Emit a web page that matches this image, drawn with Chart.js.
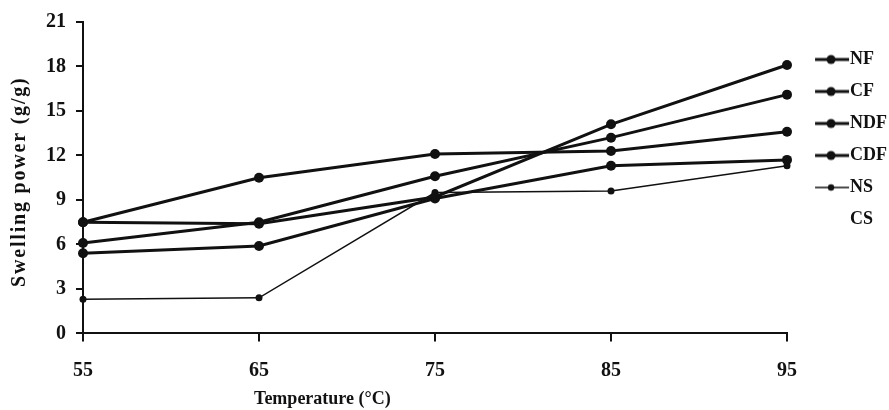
<!DOCTYPE html>
<html>
<head>
<meta charset="utf-8">
<script src="https://cdn.jsdelivr.net/npm/chart.js@4"></script>
<style>
html, body { margin: 0; padding: 0; background: #fff; }
</style>
</head>
<body>
<canvas id="swellingChart" width="889" height="410"></canvas>
<script>
// data
var temps = ['55', '65', '75', '85', '95'];
var yTicks = [0, 3, 6, 9, 12, 15, 18, 21];
var nf  = [7.5, 7.4, 9.2, 14.1, 18.1];
var cf  = [6.1, 7.5, 10.6, 13.2, 16.1];
var ndf = [7.5, 10.5, 12.1, 12.3, 13.6];
var cdf = [5.4, 5.9, 9.1, 11.3, 11.7];
var ns  = [2.3, 2.4, 9.5, 9.6, 11.3];
var cs  = [];

var ink = '#111';
var xTitle = 'Temperature (\u00B0C)';
var yTitle = 'Swelling power (g/g)';
Chart.defaults.font.family = "'Liberation Serif', 'Times New Roman', serif";
Chart.defaults.font.weight = 'bold';
Chart.defaults.font.size = 20;
Chart.defaults.color = ink;

// legend icons: short line with a dot
function makeIcon(lineW, r) {
    var c = document.createElement('canvas');
    c.width = 60; c.height = 14;
    var g = c.getContext('2d');
    if (lineW) {
        g.strokeStyle = ink; g.lineWidth = lineW;
        g.beginPath(); g.moveTo(24, 7); g.lineTo(58, 7); g.stroke();
        g.fillStyle = ink;
        g.beginPath(); g.arc(40, 7, r, 0, Math.PI * 2); g.fill();
    }
    return c;
}
var icons = [makeIcon(3, 4.5), makeIcon(3, 4.5), makeIcon(3, 4.5), makeIcon(3, 4.5), makeIcon(1.5, 3.2), makeIcon(0, 0)];

function series(label, data, w, r) {
    return {
        label: label, data: data,
        borderColor: w ? ink : 'rgba(0,0,0,0)', backgroundColor: ink,
        borderWidth: w, pointRadius: r, pointBackgroundColor: ink,
        pointBorderWidth: 0, tension: 0
    };
}

// axis titles: x title sits left of centre, y title is letter-spaced in the original
var titlesPlugin = {
    id: 'axisTitles',
    afterDraw: function(chart) {
        var x = chart.scales.x, y = chart.scales.y, ctx = chart.ctx;
        ctx.save();
        ctx.fillStyle = ink;
        ctx.textAlign = 'center';
        ctx.textBaseline = 'middle';
        ctx.font = "bold 18px 'Liberation Serif'";
        ctx.fillText(xTitle, x.left + (x.right - x.left) * 0.34, chart.height - 11);
        ctx.translate(20, (y.top + y.bottom) / 2 + 4);
        ctx.rotate(-Math.PI / 2);
        ctx.font = "bold 20px 'Liberation Serif'";
        ctx.letterSpacing = '1.8px';
        ctx.fillText(yTitle, 0, 0);
        ctx.restore();
    }
};

var ctx = document.getElementById('swellingChart').getContext('2d');
var swellingChart = new Chart(ctx, {
    type: 'line',
    data: {
        labels: temps,
        datasets: [
            series('NF', nf, 3, 5),
            series('CF', cf, 3, 5),
            series('NDF', ndf, 3, 5),
            series('CDF', cdf, 3, 5),
            series('NS', ns, 1.5, 3.5),
            series('CS', cs, 0, 0)
        ]
    },
    options: {
        responsive: false,
        animation: false,
        layout: { padding: { top: 20, left: 0, right: -8, bottom: -15 } },
        plugins: {
            tooltip: { enabled: false },
            legend: {
                position: 'right',
                align: 'start',
                title: { display: true, text: '', font: { size: 10 }, padding: { top: 2, bottom: 2.5 } },
                labels: {
                    usePointStyle: true,
                    pointStyleWidth: 40,
                    padding: 14,
                    color: ink,
                    font: { size: 18, weight: 'bold' },
                    generateLabels: function(chart) {
                        var items = Chart.defaults.plugins.legend.labels.generateLabels(chart);
                        items.forEach(function(it, i) { it.pointStyle = icons[i]; });
                        return items;
                    }
                }
            }
        },
        scales: {
            x: {
                offset: false,
                grid: { drawOnChartArea: false, tickLength: 8, lineWidth: 2, color: ink },
                border: { color: ink, width: 2 },
                ticks: { padding: 17, maxRotation: 0, color: ink },
                title: { display: true, text: xTitle, color: 'rgba(0,0,0,0)', font: { size: 18 }, padding: { top: 2, bottom: 2 } }
            },
            y: {
                min: yTicks[0],
                max: yTicks[yTicks.length - 1],
                afterBuildTicks: function(scale) {
                    scale.ticks = yTicks.map(function(v) { return { value: v }; });
                },
                grid: { drawOnChartArea: false, tickLength: 7, lineWidth: 2, color: ink },
                border: { color: ink, width: 2 },
                ticks: { padding: 10, color: ink },
                title: { display: true, text: yTitle, color: 'rgba(0,0,0,0)', font: { size: 20 }, padding: { top: 7.5, bottom: 4.5 } }
            }
        }
    },
    plugins: [titlesPlugin]
});
</script>
</body>
</html>
